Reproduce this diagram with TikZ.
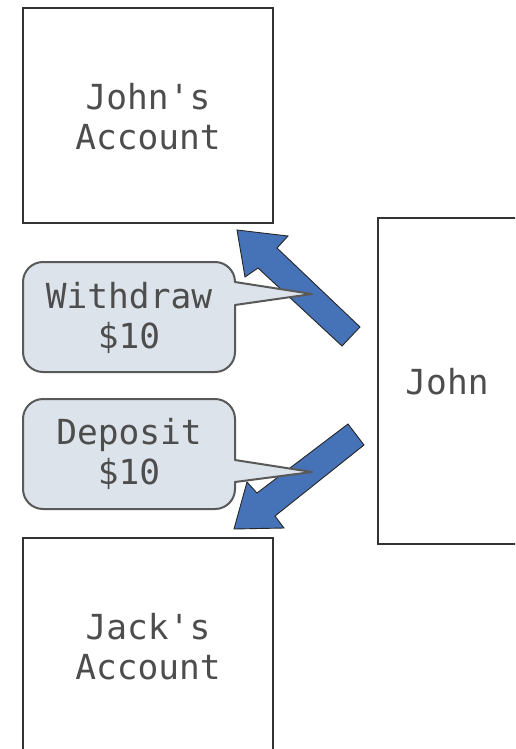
\documentclass[tikz,border=0pt]{standalone}
\usepackage{fontspec}
\setmonofont{DejaVu Sans Mono}
\definecolor{txt}{HTML}{4D4D4D}
\definecolor{boxline}{HTML}{333333}
\definecolor{bubblefill}{HTML}{DCE3EA}
\definecolor{bubbleline}{HTML}{595959}
\definecolor{arrowblue}{HTML}{4672B8}
\begin{document}
\begin{tikzpicture}[x=1pt,y=1pt,
  label/.style={font=\ttfamily\fontsize{34.5}{40}\selectfont, text=txt, align=center, inner sep=0pt},
  acct/.style={draw=boxline, line width=1.1pt, fill=white},
  bubble/.style={draw=bubbleline, line width=2pt, fill=bubblefill, line join=round},
  blockarrow/.style={fill=arrowblue, draw=black!85, line width=0.9pt, line join=miter}]
\useasboundingbox (0,0) rectangle (515,-749);
\clip (0,0) rectangle (515,-749);

% account boxes and the customer
\draw[acct] (23,-8) rectangle (273,-223);
\draw[acct] (23,-538) rectangle (273,-760);
\draw[acct] (378,-218) rectangle (520,-544);
\node[label] (johnacct) at (148,-117) {John's\\Account};
\node[label] (jackacct) at (148,-647) {Jack's\\Account};
\node[label] (john) at (447,-382) {John};

% block arrows: withdraw up-left, deposit down-left
\coordinate (wtip) at (237,-230);
\coordinate (dtip) at (234,-529);
\filldraw[blockarrow] (wtip) -- (288,-236) -- (277,-248) -- (360,-327)
  -- (342,-346) -- (258,-268) -- (245,-277) -- cycle;
\filldraw[blockarrow] (dtip) -- (284,-528) -- (275,-516) -- (364,-445)
  -- (348,-424) -- (257,-493) -- (247,-482) -- cycle;

% speech bubbles
\filldraw[bubble] (43,-262) -- (215,-262) arc[start angle=90,end angle=0,radius=20]
  -- (312,-294) -- (235,-305) -- (235,-352) arc[start angle=0,end angle=-90,radius=20]
  -- (43,-372) arc[start angle=270,end angle=180,radius=20]
  -- (23,-282) arc[start angle=180,end angle=90,radius=20] -- cycle;
\filldraw[bubble] (43,-399) -- (215,-399) arc[start angle=90,end angle=0,radius=20]
  -- (235,-460) -- (312,-472) -- (235,-482) -- (235,-489) arc[start angle=0,end angle=-90,radius=20]
  -- (43,-509) arc[start angle=270,end angle=180,radius=20]
  -- (23,-419) arc[start angle=180,end angle=90,radius=20] -- cycle;
\node[label] (withdraw) at (129,-318) {Withdraw\\\$10};
\node[label] (deposit) at (129,-454) {Deposit\\\$10};
\end{tikzpicture}
\end{document}
